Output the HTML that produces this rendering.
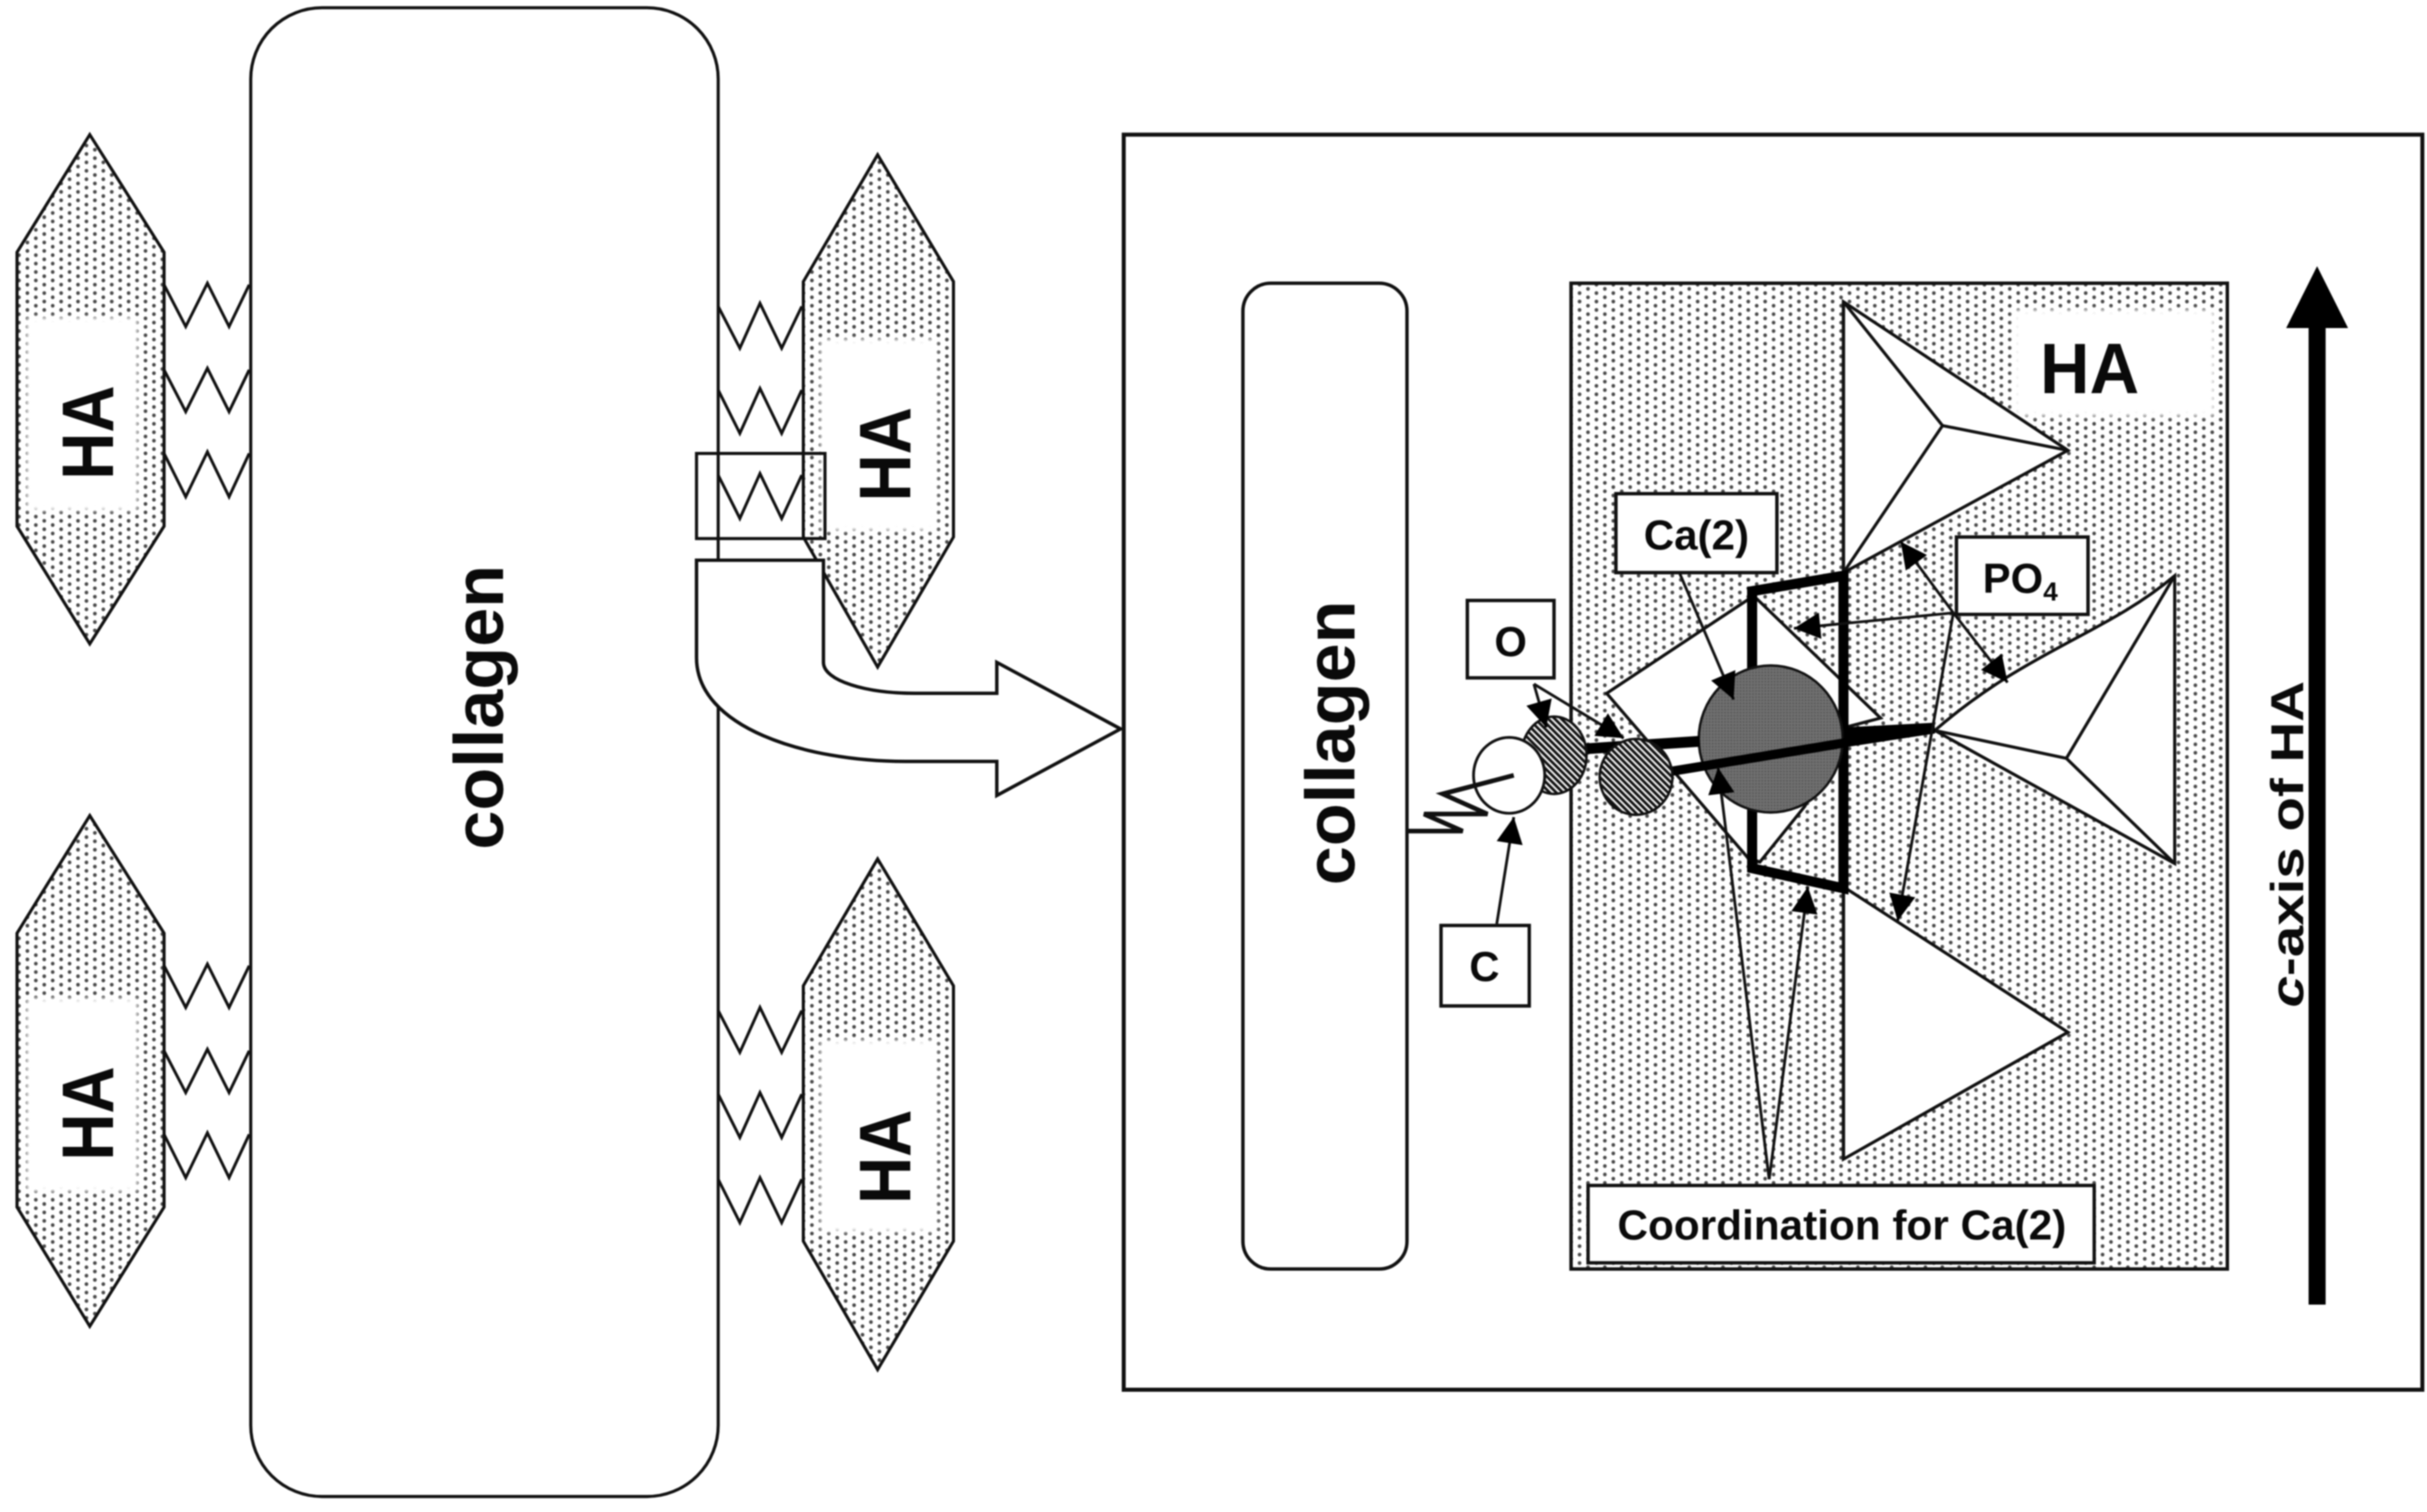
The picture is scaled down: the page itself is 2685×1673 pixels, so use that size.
<!DOCTYPE html>
<html>
<head>
<meta charset="utf-8">
<style>
html,body{margin:0;padding:0;background:#fff;width:2685px;height:1673px;overflow:hidden}
svg{display:block;filter:blur(0.7px)}
text{font-family:"Liberation Sans",sans-serif;font-weight:bold;fill:#0a0a0a}
.soft{filter:blur(1.5px)}
</style>
</head>
<body>
<svg xmlns="http://www.w3.org/2000/svg" width="2685" height="1673" viewBox="0 0 1568 977">
<defs>
<pattern id="st" width="10.9" height="5.45" patternUnits="userSpaceOnUse">
<rect width="10.9" height="5.45" fill="#fff"/>
<circle cx="1.35" cy="1.35" r="1.2" fill="#4a4a4a"/>
<circle cx="6.8" cy="4.08" r="1.2" fill="#4a4a4a"/>
</pattern>
<pattern id="hatch" width="3" height="3" patternUnits="userSpaceOnUse" patternTransform="rotate(-45)">
<rect width="3" height="3" fill="#f0f0f0"/>
<rect width="1.7" height="3" fill="#111"/>
</pattern>
<pattern id="ca" width="2" height="2" patternUnits="userSpaceOnUse">
<rect width="2" height="2" fill="#707070"/>
<rect width="1" height="1" fill="#555"/>
</pattern>
<marker id="ah" viewBox="0 0 10 10" refX="10" refY="5" markerWidth="22" markerHeight="17" markerUnits="userSpaceOnUse" orient="auto">
<path d="M0,0 L10,5 L0,10 Z" fill="#000"/>
</marker>
</defs>

<!-- big collagen -->
<rect x="162" y="5" width="302" height="962" rx="46" ry="46" fill="#fff" stroke="#111" stroke-width="2"/>
<text transform="translate(325,549) rotate(-90)" font-size="45" textLength="184" lengthAdjust="spacingAndGlyphs">collagen</text>

<!-- crystals -->
<g stroke="#111" stroke-width="2">
<polygon points="58,87 106,163 106,340 58,416 11,340 11,163" fill="url(#st)"/>
<polygon points="567,100 616,182 616,347 567,431 519,347 519,182" fill="url(#st)"/>
<polygon points="58,527 106,603 106,780 58,857 11,780 11,603" fill="url(#st)"/>
<polygon points="567,555 616,637 616,802 567,885 519,802 519,637" fill="url(#st)"/>
</g>
<g fill="#fff" class="soft">
<rect x="17" y="205" width="72" height="125"/>
<rect x="530" y="219" width="75" height="124"/>
<rect x="17" y="645" width="72" height="125"/>
<rect x="530" y="672" width="75" height="124"/>
</g>
<text transform="translate(73,310) rotate(-90)" font-size="47" textLength="61" lengthAdjust="spacingAndGlyphs">HA</text>
<text transform="translate(588,324) rotate(-90)" font-size="47" textLength="61" lengthAdjust="spacingAndGlyphs">HA</text>
<text transform="translate(73,750) rotate(-90)" font-size="47" textLength="61" lengthAdjust="spacingAndGlyphs">HA</text>
<text transform="translate(588,778) rotate(-90)" font-size="47" textLength="61" lengthAdjust="spacingAndGlyphs">HA</text>

<!-- springs -->
<g fill="none" stroke="#111" stroke-width="1.9">
<polyline points="106,184 120,211 134,183 148,211 161,184"/>
<polyline points="106,239 120,266 134,238 148,266 161,239"/>
<polyline points="106,293 120,321 134,292 148,321 161,293"/>
<polyline points="106,624 120,651 134,623 148,651 161,624"/>
<polyline points="106,679 120,706 134,678 148,706 161,679"/>
<polyline points="106,733 120,761 134,732 148,761 161,733"/>
<polyline points="464,198 478,225 491,196 505,225 518,198"/>
<polyline points="464,252 478,280 491,251 505,280 518,252"/>
<polyline points="464,307 478,335 491,306 505,335 518,307"/>
<polyline points="464,653 478,680 491,651 505,680 518,653"/>
<polyline points="464,707 478,735 491,706 505,735 518,707"/>
<polyline points="464,762 478,790 491,761 505,790 518,762"/>
</g>

<!-- selection + big arrow -->
<rect x="450" y="293" width="83" height="55" fill="none" stroke="#111" stroke-width="2"/>
<path d="M450,362 H532 V428 C532,440 560,448 591,448 H644 V428 L724,471 L644,514 V492 H585 C520,492 450,470 450,425 Z" fill="#fff" stroke="#111" stroke-width="2.2"/>

<!-- right panel -->
<rect x="726" y="87" width="839" height="811" fill="#fff" stroke="#111" stroke-width="2.6"/>
<rect x="803" y="183" width="106" height="637" rx="18" ry="18" fill="#fff" stroke="#111" stroke-width="2.2"/>
<text transform="translate(875,572) rotate(-90)" font-size="45" textLength="184" lengthAdjust="spacingAndGlyphs">collagen</text>

<rect x="1015" y="183" width="424" height="637" fill="url(#st)" stroke="#111" stroke-width="2.2"/>
<rect x="1301" y="200" width="130" height="69" fill="#fff" class="soft"/>
<text x="1318" y="254" font-size="46" textLength="64" lengthAdjust="spacingAndGlyphs">HA</text>

<!-- tetrahedra -->
<g stroke="#111" stroke-width="2" stroke-linejoin="miter">
<polygon points="1191,195 1336,291 1191,370" fill="#fff"/>
<polyline points="1191,195 1255,275 1336,291" fill="none"/>
<line x1="1255" y1="275" x2="1191" y2="370"/>
<path d="M1250,472 C1310,420 1360,410 1405,372 V558 Z" fill="#fff"/>
<polyline points="1405,372 1335,490 1405,558" fill="none"/>
<line x1="1335" y1="490" x2="1250" y2="472"/>
<polygon points="1191,573 1336,667 1191,749" fill="#fff"/>
<polygon points="1038,448 1133,385 1215,464 1192,470 1166,521 1137,557 1129,554" fill="#fff"/>
</g>
<line x1="1191" y1="195" x2="1191" y2="749" stroke="#111" stroke-width="2"/>

<!-- thick coordination polygon -->
<polygon points="1191,372 1132,382 1132,561 1191,574" fill="none" stroke="#000" stroke-width="6.5"/>

<!-- Ca -->
<ellipse cx="1144" cy="477.5" rx="46.5" ry="47.5" fill="url(#ca)" stroke="#111" stroke-width="1.6"/>

<!-- bonds -->
<line x1="1022" y1="484" x2="1098" y2="479" stroke="#000" stroke-width="7"/>
<line x1="1070" y1="500" x2="1192" y2="480" stroke="#000" stroke-width="6"/>
<polygon points="1191,470 1250,467 1250,474 1191,483" fill="#000"/>

<!-- O atoms and C -->
<ellipse cx="1004" cy="488" rx="21" ry="25" fill="url(#hatch)" stroke="#111" stroke-width="1.6"/>
<ellipse cx="1057" cy="502" rx="23.5" ry="24.5" fill="url(#hatch)" stroke="#111" stroke-width="1.6"/>
<ellipse cx="975" cy="501" rx="23" ry="24.5" fill="#fff" stroke="#111" stroke-width="1.8"/>
<polyline points="909,537 945,537 920,526 961,526 932,513 978,501" fill="none" stroke="#111" stroke-width="3"/>

<!-- labels -->
<g fill="#fff" stroke="#111" stroke-width="2.2">
<rect x="948" y="388" width="56" height="50"/>
<rect x="931" y="598" width="57" height="52"/>
<rect x="1044" y="319" width="104" height="51"/>
<rect x="1264" y="347" width="85" height="50"/>
<rect x="1026" y="766" width="327" height="50"/>
</g>
<text x="976" y="424" font-size="27" text-anchor="middle">O</text>
<text x="959" y="634" font-size="27" text-anchor="middle">C</text>
<text x="1096" y="355" font-size="27" text-anchor="middle" textLength="68" lengthAdjust="spacingAndGlyphs">Ca(2)</text>
<text x="1281" y="383" font-size="27">PO<tspan font-size="17" dy="5">4</tspan></text>
<text x="1045" y="801" font-size="27" textLength="290" lengthAdjust="spacingAndGlyphs">Coordination for Ca(2)</text>

<!-- callout arrows -->
<g stroke="#111" stroke-width="1.8" fill="none">
<line x1="967" y1="597" x2="978" y2="528" marker-end="url(#ah)"/>
<line x1="991" y1="442" x2="999" y2="470" marker-end="url(#ah)"/>
<line x1="991" y1="442" x2="1049" y2="477" marker-end="url(#ah)"/>
<line x1="1085" y1="370" x2="1120" y2="452" marker-end="url(#ah)"/>
<line x1="1262" y1="396" x2="1228" y2="350" marker-end="url(#ah)"/>
<line x1="1262" y1="396" x2="1297" y2="441" marker-end="url(#ah)"/>
<line x1="1262" y1="396" x2="1159" y2="406" marker-end="url(#ah)"/>
<line x1="1262" y1="396" x2="1226" y2="595" marker-end="url(#ah)"/>
<line x1="1143" y1="762" x2="1110" y2="496" marker-end="url(#ah)"/>
<line x1="1143" y1="762" x2="1168" y2="573" marker-end="url(#ah)"/>
</g>

<!-- c axis -->
<rect x="1491.5" y="208" width="11" height="635" fill="#000"/>
<polygon points="1477,212 1517,212 1497,172" fill="#000"/>
<text transform="translate(1488,651) rotate(-90)" font-size="30" textLength="211" lengthAdjust="spacingAndGlyphs"><tspan font-style="italic">c</tspan>-axis of HA</text>
</svg>
</body>
</html>
